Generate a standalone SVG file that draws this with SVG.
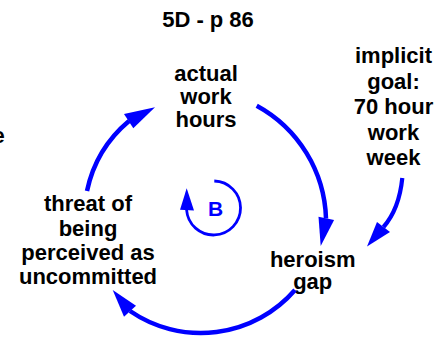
<svg xmlns="http://www.w3.org/2000/svg" width="436" height="338" viewBox="0 0 436 338">
<style>
text{font-family:"Liberation Sans",Arial,sans-serif;font-weight:bold;font-size:22px;fill:#000;text-anchor:middle}
.lnk{fill:none;stroke:#0000FF;stroke-width:4.5}
.head{fill:#0000FF;stroke:none}
.loop{fill:none;stroke:#0000FF;stroke-width:2.8}
.lbl{fill:#0000FF;font-size:21px}
</style>
<rect width="436" height="338" fill="#fff"/>
<g id="title"><text x="208" y="26.7">5D - p 86</text></g>
<g id="stray"><text x="-7.5" y="143.3" style="text-anchor:start">e</text></g>
<g id="node-actual-work-hours">
<text x="206" y="81">actual<tspan x="206" y="104">work</tspan><tspan x="206" y="127">hours</tspan></text>
</g>
<g id="node-implicit-goal">
<text x="393.5" y="63">implicit<tspan x="393.5" y="88.5">goal:</tspan><tspan x="393.5" y="114">70 hour</tspan><tspan x="393.5" y="139.5">work</tspan><tspan x="393.5" y="165">week</tspan></text>
</g>
<g id="node-heroism-gap">
<text x="312.7" y="267">heroism<tspan x="312.7" y="288.5">gap</tspan></text>
</g>
<g id="node-threat">
<text x="88" y="211">threat of<tspan x="88" y="235.5">being</tspan><tspan x="88" y="260">perceived as</tspan><tspan x="88" y="284">uncommitted</tspan></text>
</g>
<g id="loop-B">
<path class="loop" d="M214.3,181 A27,27 0 1 1 186.6,210"/>
<polygon class="head" points="186.7,188.3 180,209.8 194,210.6"/>
<text class="lbl" x="215.5" y="216">B</text>
</g>
<g id="connectors">
<path class="lnk" d="M256.7,105.7 A133,133 0 0 1 326,218.5"/>
<polygon class="head" points="320.7,246 318.5,216.7 334.1,219.9"/>
<path class="lnk" d="M295,290 A124.7,124.7 0 0 1 130,311"/>
<polygon class="head" points="112.7,290 124,316.7 136,305.7"/>
<path class="lnk" d="M87,191 A125,125 0 0 1 129,121"/>
<polygon class="head" points="155,107.3 124,114 133.3,128.3"/>
<path class="lnk" style="stroke-width:4.2" d="M402.3,178 Q399.2,209 383.5,227"/>
<polygon class="head" points="367,246.5 377,222 390,232"/>
</g>
</svg>
